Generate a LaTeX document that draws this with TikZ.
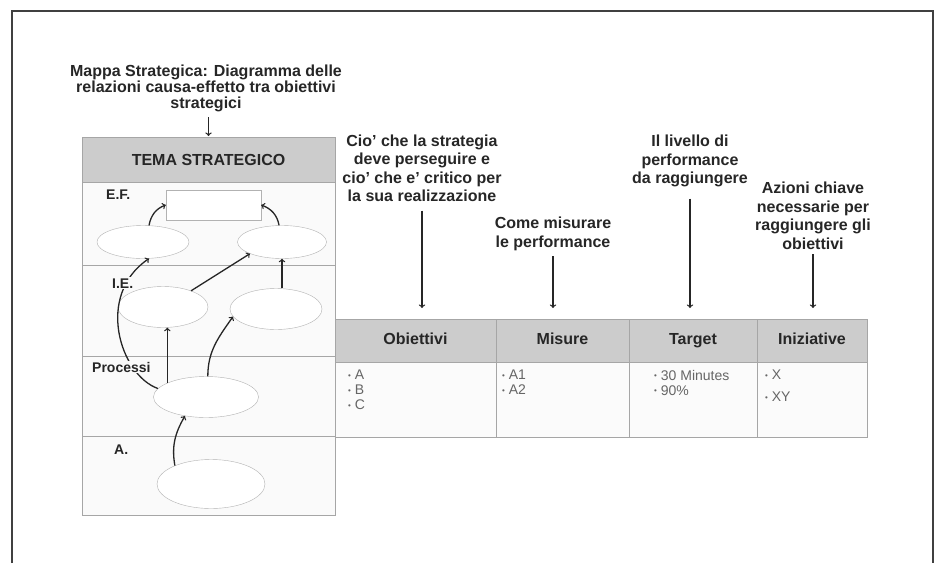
\documentclass[tikz,border=0pt]{standalone}
\usepackage{fontspec}
\setmainfont{Liberation Sans}
\usepackage{tikz}
\usetikzlibrary{positioning}
\usetikzlibrary{shapes.geometric}

\newcommand{\dotitem}{\raisebox{1.5pt}{\fontsize{8}{8}\selectfont\textbullet}\ }

\begin{document}
\begin{tikzpicture}[x=1pt, y=1pt,
  band/.style={draw=gray!70, fill=gray!4, minimum width=253pt, inner sep=0pt, outer sep=0pt},
  hdr/.style={draw=gray!70, fill=gray!40, inner sep=0pt, outer sep=0pt, minimum height=43pt, text height=11.5pt, text depth=3.5pt, font=\fontsize{16}{18}\selectfont\bfseries, text=black!85},
  cell/.style={draw=gray!70, fill=gray!3, inner sep=0pt, outer sep=0pt, minimum height=75pt},
  oval/.style={ellipse, draw=gray!60, fill=white, inner sep=0pt},
  lbl/.style={anchor=base west, fill=gray!4, inner sep=1pt, font=\fontsize{14}{16}\selectfont\bfseries, text=black!85},
  item/.style={anchor=north west, align=left, inner sep=0pt, font=\fontsize{14}{15}\selectfont, text=black!60},
  note/.style={align=center, font=\fontsize{16}{18.5}\selectfont\bfseries, text=black!85},
  conn/.style={->, line width=1.3pt, draw=black!85}]
  \useasboundingbox (0,0) rectangle (935,-563);
  \draw[line width=1.5pt, black!75] (12,-563) -- (12,-11) -- (933,-11) -- (933,-563);

  \node[note, font=\fontsize{16}{16}\selectfont\bfseries] (title) at (206,-88) {Mappa Strategica: Diagramma delle\\relazioni causa-effetto tra obiettivi\\strategici};

  \node[band, anchor=north west, fill=gray!40, minimum height=45pt, font=\fontsize{16}{18}\selectfont\bfseries, text=black!85] (tema) at (82,-137) {TEMA STRATEGICO};
  \node[band, minimum height=83pt, below=0pt of tema] (ef) {};
  \node[band, minimum height=91pt, below=0pt of ef] (ie) {};
  \node[band, minimum height=80pt, below=0pt of ie] (proc) {};
  \node[band, minimum height=79pt, below=0pt of proc] (att) {};

  \draw[conn, shorten <=2pt, shorten >=1pt] (title.south -| tema.north) -- (tema.north);

  \node[draw=gray!60, fill=white, minimum width=95pt, minimum height=30pt, inner sep=0pt] (efbox) at (213.5,-205) {};
  \node[oval, minimum width=92pt, minimum height=33pt] (ef1) at (143,-242) {};
  \node[oval, minimum width=89pt, minimum height=33pt] (ef2) at (282,-242) {};
  \node[oval, minimum width=90pt, minimum height=41pt] (ie1) at (163,-307) {};
  \node[oval, minimum width=92pt, minimum height=41pt] (ie2) at (276,-309) {};
  \node[oval, minimum width=105pt, minimum height=41pt] (pr) at (206,-397) {};
  \node[oval, minimum width=108pt, minimum height=49pt] (at) at (211,-484) {};

  \draw[conn] (ef1.70) to[out=80, in=200] (efbox.west);
  \draw[conn] (ef2.100) to[out=100, in=-20] (efbox.east);
  \draw[conn] (pr.170) .. controls (120,-375) and (95,-295) .. (ef1.290);
  \draw[conn] (ie1.30) -- (ef2.200);
  \draw[conn] (ef2.south |- ie2.north) -- (ef2.south);
  \draw[conn] (pr.160) -- (pr.160 |- ie1.south);
  \draw[conn] (pr.85) to[out=90, in=235] (ie2.190);
  \draw[conn] (at.153) to[out=100, in=240] (pr.222);

  \node[lbl] (eflbl) at (105,-199) {E.F.};
  \node[lbl] (ielbl) at (111,-288) {I.E.};
  \node[lbl] (prlbl) at (91,-372) {Processi};
  \node[lbl] (atlbl) at (113,-454) {A.};

  \node[hdr, anchor=north west, minimum width=161pt] (obj) at (335,-319) {Obiettivi};
  \node[hdr, minimum width=133pt, right=0pt of obj] (mis) {Misure};
  \node[hdr, minimum width=128pt, right=0pt of mis] (tgt) {Target};
  \node[hdr, minimum width=110pt, right=0pt of tgt] (ini) {Iniziative};
  \node[cell, minimum width=161pt, below=0pt of obj] (objb) {};
  \node[cell, minimum width=133pt, below=0pt of mis] (misb) {};
  \node[cell, minimum width=128pt, below=0pt of tgt] (tgtb) {};
  \node[cell, minimum width=110pt, below=0pt of ini] (inib) {};

  \node[item] (objit) at (348,-370) {\dotitem A\\\dotitem B\\\dotitem C};
  \node[item] (misit) at (502,-370) {\dotitem A1\\\dotitem A2};
  \node[item] (tgtit) at (654,-370) {\dotitem 30 Minutes\\\dotitem 90\%};
  \node[item] (iniit) at (765,-370) {\dotitem X\\[7pt]\dotitem XY};

  \node[note] (q1) at (422,-168.5) {Cio' che la strategia\\deve perseguire e\\cio' che e' critico per\\la sua realizzazione};
  \node[note] (q2) at (553,-234) {Come misurare\\le performance};
  \node[note] (q3) at (690,-161) {Il livello di\\performance\\da raggiungere};
  \node[note] (q4) at (813,-216) {Azioni chiave\\necessarie per\\raggiungere gli\\obiettivi};

  \draw[conn, shorten <=5pt, shorten >=11pt] (q1.south) -- (q1.south |- obj.north);
  \draw[conn, shorten <=2pt, shorten >=11pt] (q2.south) -- (q2.south |- mis.north);
  \draw[conn, shorten <=8pt, shorten >=11pt] (q3.south) -- (q3.south |- tgt.north);
  \draw[conn, shorten <=1pt, shorten >=11pt] (q4.south) -- (q4.south |- ini.north);
\end{tikzpicture}
\end{document}
